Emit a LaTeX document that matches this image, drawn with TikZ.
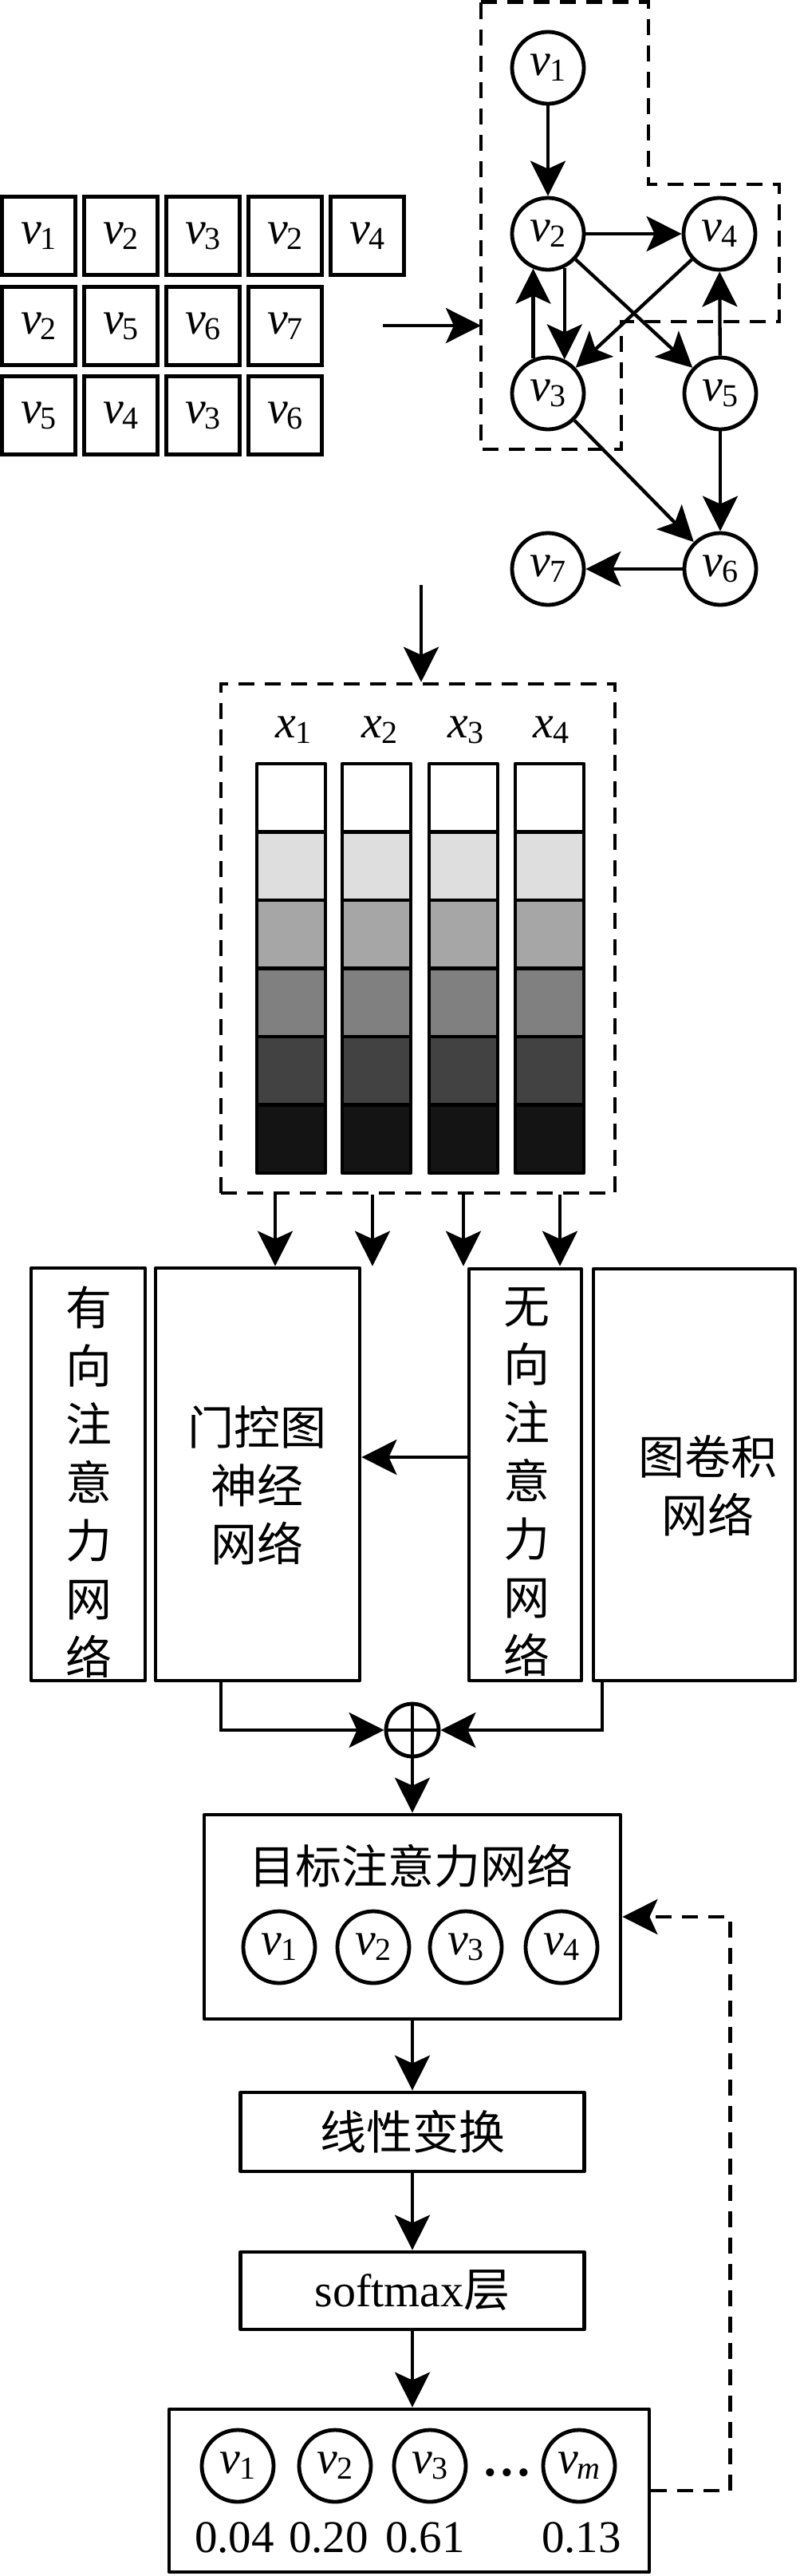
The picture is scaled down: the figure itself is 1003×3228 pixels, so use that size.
\documentclass[tikz,border=0pt]{standalone}
\usepackage{fontspec}
\setmainfont{Liberation Serif}
\newfontfamily\cjk{Noto Sans CJK SC}
\usetikzlibrary{arrows.meta}
\definecolor{gA}{gray}{0.87}
\definecolor{gB}{gray}{0.65}
\definecolor{gC}{gray}{0.50}
\definecolor{gD}{gray}{0.26}
\definecolor{gE}{gray}{0.08}
\newcommand\mysub[2]{\textit{#1}\kern-1pt\raisebox{-7pt}{\fontsize{40}{40}\selectfont #2}}
\newcommand\vl[1]{\mysub{v}{#1}}
\begin{document}
\begin{tikzpicture}[x=1pt,y=-1pt,
  tipst/.tip={Stealth[length=44pt,width=44pt,inset=10pt]},
  arr/.style={line width=4.3pt,-tipst},
  gnode/.style={circle,draw,line width=4.8pt,minimum size=90pt,inner sep=0pt,font=\fontsize{58}{60}\selectfont},
  tbox/.style={rectangle,draw,line width=5pt,minimum width=92pt,minimum height=98pt,inner sep=0pt,font=\fontsize{58}{60}\selectfont},
  dline/.style={line width=4.6pt,dash pattern=on 20pt off 13pt},
  box/.style={rectangle,draw,line width=4.8pt,inner sep=0pt,line join=round},
  cjktext/.style={font=\cjk\fontsize{58}{73}\selectfont,align=center,inner sep=0pt},
  lat/.style={font=\fontsize{58}{60}\selectfont,inner sep=0pt},
  cell/.style={line width=4.8pt,line join=round}
]
\useasboundingbox (0,0) rectangle (1003,3228);

% ---------- walk table ----------
\node[tbox] (t11) at (48.5,295.5) {\vl1};
\node[tbox] (t12) at (151.5,295.5) {\vl2};
\node[tbox] (t13) at (254.5,295.5) {\vl3};
\node[tbox] (t14) at (357.5,295.5) {\vl2};
\node[tbox] (t15) at (460.5,295.5) {\vl4};
\node[tbox] (t21) at (48.5,408.5) {\vl2};
\node[tbox] (t22) at (151.5,408.5) {\vl5};
\node[tbox] (t23) at (254.5,408.5) {\vl6};
\node[tbox] (t24) at (357.5,408.5) {\vl7};
\node[tbox] (t31) at (48.5,520.5) {\vl5};
\node[tbox] (t32) at (151.5,520.5) {\vl4};
\node[tbox] (t33) at (254.5,520.5) {\vl3};
\node[tbox] (t34) at (357.5,520.5) {\vl6};

\coordinate (tout) at (480,408);
\coordinate (gin) at (603,408);
\draw[arr] (tout) -- (gin);

% ---------- graph ----------
\draw[dline] (603,2.5) -- (813,2.5) -- (813,231) -- (977,231) -- (977,403) -- (779,403) -- (779,563) -- (603,563) -- cycle;
\node[gnode] (g1) at (687,85) {\vl1};
\node[gnode] (g2) at (687,293) {\vl2};
\node[gnode] (g4) at (902,293) {\vl4};
\node[gnode] (g3) at (687,493) {\vl3};
\node[gnode] (g5) at (903,493) {\vl5};
\node[gnode] (g7) at (687,713) {\vl7};
\node[gnode] (g6) at (903,713) {\vl6};
\draw[arr] (g1) -- (g2);
\draw[arr] (g2) -- (g4);
\draw[arr] (g2.-64) -- (g3.64);
\draw[arr] (g3.113) -- (g2.-113);
\draw[arr] (g4) -- (g3);
\draw[arr] (g2) -- (g5);
\draw[arr] (g5) -- (g4);
\draw[arr] (g5) -- (g6);
\draw[arr] (g3) -- (g6);
\draw[arr] (g6) -- (g7);

% ---------- feature box ----------
\node[rectangle,draw,dline,minimum width=494pt,minimum height=638pt,inner sep=0pt] (xbox) at (524,1176) {};
\coordinate (xin) at (528,733);
\draw[arr] (xin) -- (xin |- xbox.north);
\node[lat] (x1) at (368,915) {\mysub{x}{1}};
\node[lat] (x2) at (476,915) {\mysub{x}{2}};
\node[lat] (x3) at (584,915) {\mysub{x}{3}};
\node[lat] (x4) at (691,915) {\mysub{x}{4}};
\foreach \x in {322,429,538,646}{
  \foreach \r/\c in {0/white,1/gA,2/gB,3/gC,4/gD,5/gE}{
    \draw[cell,fill=\c] ({\x},{957+85.5*\r}) rectangle ({\x+86},{957+85.5*(\r+1)});
  }
}

% ---------- networks ----------
\node[box,minimum width=143pt,minimum height=517pt] (dir) at (110.5,1847.5) {};
\node[box,minimum width=256pt,minimum height=517pt] (gate) at (323,1847.5) {};
\node[box,minimum width=141pt,minimum height=516pt] (undir) at (658.5,1848) {};
\node[box,minimum width=253pt,minimum height=516pt] (gcn) at (870.5,1848) {};
\node[cjktext] (dirtxt) at (111,1857) {有\\向\\注\\意\\力\\网\\络};
\node[cjktext] (undirtxt) at (660,1857) {无\\向\\注\\意\\力\\网\\络};
\node[cjktext] (gatetxt) at (322,1861) {门控图\\神经\\网络};
\node[cjktext] (gcntxt) at (887,1862) {图卷积\\网络};

\foreach \x in {345,467,581,702}{
  \draw[arr] (xbox.south -| \x,0) -- (gate.north -| \x,0);
}
\draw[arr] (undir.west |- 0,1826) -- (gate.east |- 0,1826);

% ---------- fusion ----------
\node[circle,draw,line width=4.8pt,minimum size=66pt,inner sep=0pt] (op) at (517,2168) {};
\draw[line width=4.5pt] (op.north) -- (op.south) (op.west) -- (op.east);
\draw[arr] (gate.south -| 277,0) |- (op.west);
\draw[arr] (gcn.south -| 755,0) |- (op.east);

% ---------- target attention ----------
\node[box,minimum width=522pt,minimum height=256pt] (tgt) at (517,2402) {};
\node[cjktext] (tgttitle) at (515,2338) {目标注意力网络};
\node[gnode] (a1) at (350,2440) {\vl1};
\node[gnode] (a2) at (468,2440) {\vl2};
\node[gnode] (a3) at (584,2440) {\vl3};
\node[gnode] (a4) at (704,2440) {\vl4};
\draw[arr] (op.south) -- (op.south |- tgt.north);

\node[box,minimum width=431pt,minimum height=99pt,font=\cjk\fontsize{58}{60}\selectfont] (lin) at (517,2671.5) {线性变换};
\node[box,minimum width=431pt,minimum height=97pt,font=\fontsize{58}{60}\selectfont] (sm) at (517,2870.5) {softmax{\cjk 层}};
\draw[arr] (tgt.south) -- (lin.north);
\draw[arr] (lin.south) -- (sm.north);

% ---------- output ----------
\node[box,minimum width=602pt,minimum height=204pt] (bot) at (513,3121) {};
\draw[arr] (sm.south) -- (sm.south |- bot.north);
\node[gnode] (b1) at (298,3090) {\vl1};
\node[gnode] (b2) at (420,3090) {\vl2};
\node[gnode] (b3) at (539,3090) {\vl3};
\node[gnode] (bm) at (726,3090) {\mysub{v}{\textit{m}}};
\node[inner sep=0pt,font=\fontsize{42}{42}\selectfont] (dots) at (636,3103) {\textbullet\hspace{6pt}\textbullet\hspace{6pt}\textbullet};
\node[inner sep=0pt,font=\fontsize{57}{60}\selectfont] (n1) at (294,3180) {0.04};
\node[inner sep=0pt,font=\fontsize{57}{60}\selectfont] (n2) at (412,3180) {0.20};
\node[inner sep=0pt,font=\fontsize{57}{60}\selectfont] (n3) at (533,3180) {0.61};
\node[inner sep=0pt,font=\fontsize{57}{60}\selectfont] (nm) at (729,3180) {0.13};
\draw[dline,-tipst] (bot.east) -- ++(99,0) |- (tgt.east);
\end{tikzpicture}
\end{document}
